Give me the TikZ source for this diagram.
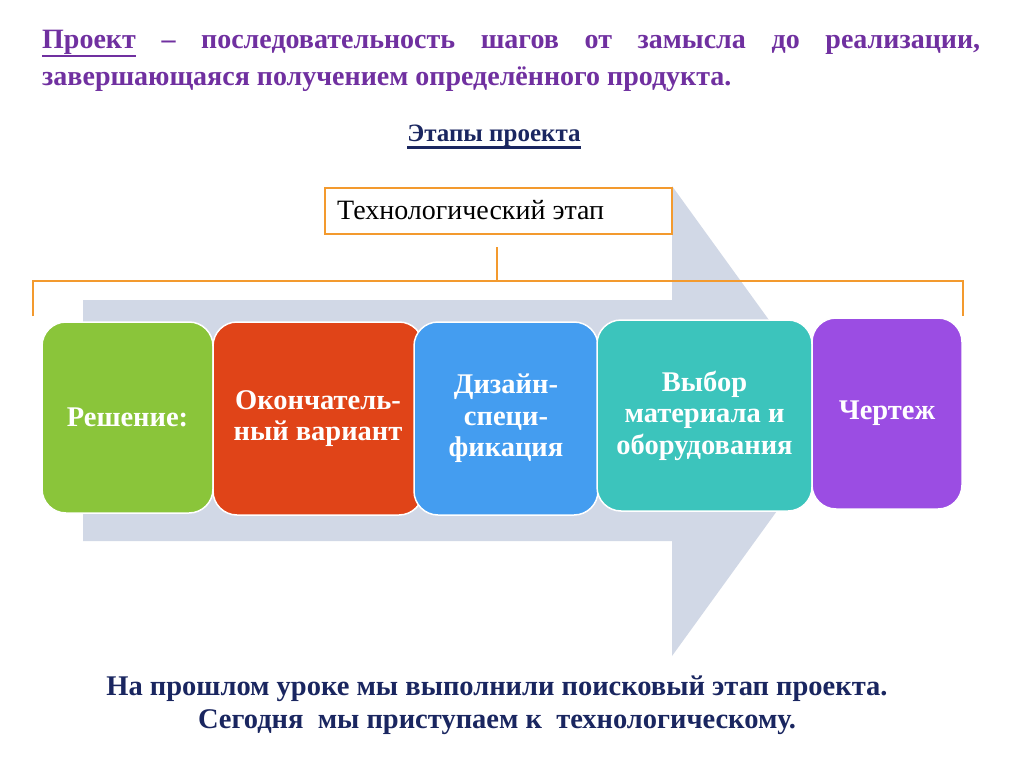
\documentclass[tikz,border=0pt]{standalone}
\usepackage{fontspec}
\setmainfont{Liberation Serif}
\definecolor{titlec}{HTML}{7030A0}
\definecolor{navyc}{HTML}{1A2660}
\definecolor{arrowc}{HTML}{D1D8E6}
\definecolor{brc}{HTML}{F39A2E}
\definecolor{greenc}{HTML}{8AC53A}
\definecolor{redc}{HTML}{E04418}
\definecolor{bluec}{HTML}{449DF0}
\definecolor{tealc}{HTML}{3CC4BC}
\definecolor{purplec}{HTML}{9B4DE3}
\newcommand\thickul[2]{\leavevmode\setbox0\hbox{#2}\rlap{\rule[-#1]{\wd0}{2.6pt}}\box0\relax}
\tikzset{
  stagebox/.style={draw=white, line width=1.5pt, rounded corners=24pt, text=white,
    align=center, inner sep=2pt, font=\bfseries\fontsize{28.5}{31.5}\selectfont},
  brline/.style={draw=brc, line width=1.3pt},
  titletext/.style={anchor=base west, inner sep=0pt, text=titlec, font=\bfseries\fontsize{28}{34}\selectfont},
}
\begin{document}
\begin{tikzpicture}[x=1pt,y=-1pt]
\useasboundingbox[fill=white] (0,0) rectangle (1024,767);
% title
\node[titletext] (title1) at (42,49)
  {\makebox[938pt][s]{\thickul{8.5pt}{Проект} – последовательность шагов от замысла до реализации,}};
\node[titletext] (title2) at (42,86) {завершающаяся получением определённого продукта.};
\node[anchor=base, text=navyc, font=\bfseries\fontsize{25}{28}\selectfont, inner sep=0pt] (sub) at (494,142) {\thickul{7pt}{Этапы проекта}};
% arrow
\fill[arrowc] (83,300) -- (672,300) -- (672,186) -- (842,421) -- (672,656) -- (672,541) -- (83,541) -- cycle;
% header
\node[draw=brc, line width=1.6pt, fill=white, minimum width=347pt, minimum height=46pt,
  anchor=north west, inner sep=0pt] (hdr) at (324,187) {};
\node[anchor=base west, font=\fontsize{28}{32}\selectfont, inner sep=0pt] (hdrt) at (337,220) {Технологический этап};
% bracket
\coordinate (mtop) at (497,247);
\coordinate (mid) at (497,281);
\coordinate (bl) at (33,281);
\coordinate (br) at (963,281);
\coordinate (bld) at (33,316);
\coordinate (brd) at (963,316);
\draw[brline] (mtop) -- (mid);
\draw[brline] (bld) -- (bl) -- (br) -- (brd);
% stages
\node[stagebox, fill=greenc, minimum width=171pt, minimum height=191pt] (s1) at (127.5,417.5) {Решение:};
\node[stagebox, fill=redc, minimum width=210pt, minimum height=193pt] (s2) at (318,418.5) {Окончатель-\\ный вариант};
\node[stagebox, fill=bluec, minimum width=184pt, minimum height=193pt] (s3) at (506,418.5) {Дизайн-\\специ-\\фикация};
\node[stagebox, fill=tealc, minimum width=215pt, minimum height=191pt] (s4) at (704.5,415.5) {Выбор\\материала и\\оборудования};
\node[stagebox, fill=purplec, minimum width=150pt, minimum height=191pt] (s5) at (887,413.5) {Чертеж};
% bottom text
\node[anchor=base, text=navyc, font=\bfseries\fontsize{28.5}{33}\selectfont, inner sep=0pt] (bottom1) at (497,695)
  {На прошлом уроке мы выполнили поисковый этап проекта.};
\node[anchor=base, text=navyc, font=\bfseries\fontsize{28.5}{33}\selectfont, inner sep=0pt] (bottom2) at (497,728)
  {Сегодня \ мы приступаем к \ технологическому.};
\end{tikzpicture}
\end{document}
